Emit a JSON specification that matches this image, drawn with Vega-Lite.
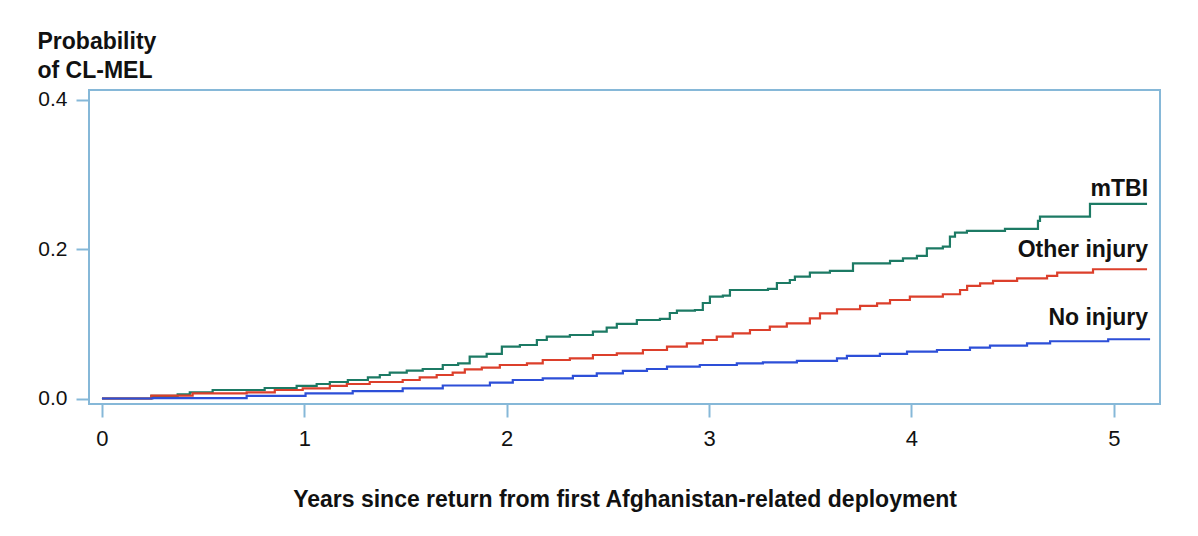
{
  "$schema": "https://vega.github.io/schema/vega-lite/v6.json",
  "width": 1071,
  "height": 314,
  "autosize": {"type": "none"},
  "padding": {"left": 89, "top": 90, "right": 38, "bottom": 132},
  "background": "white",
  "config": {
    "view": {"stroke": "#86b8d8", "strokeWidth": 2},
    "font": "Liberation Sans"
  },
  "datasets": {
    "curves": [
      {"group": "mTBI", "t": 0, "p": 0},
      {"group": "mTBI", "t": 0.244, "p": 0.0034},
      {"group": "mTBI", "t": 0.374, "p": 0.0056},
      {"group": "mTBI", "t": 0.434, "p": 0.0083},
      {"group": "mTBI", "t": 0.547, "p": 0.0114},
      {"group": "mTBI", "t": 0.804, "p": 0.0141},
      {"group": "mTBI", "t": 0.962, "p": 0.0168},
      {"group": "mTBI", "t": 1.061, "p": 0.0194},
      {"group": "mTBI", "t": 1.126, "p": 0.0221},
      {"group": "mTBI", "t": 1.215, "p": 0.0248},
      {"group": "mTBI", "t": 1.314, "p": 0.0284},
      {"group": "mTBI", "t": 1.373, "p": 0.0315},
      {"group": "mTBI", "t": 1.422, "p": 0.0346},
      {"group": "mTBI", "t": 1.506, "p": 0.0373},
      {"group": "mTBI", "t": 1.585, "p": 0.0395},
      {"group": "mTBI", "t": 1.684, "p": 0.0449},
      {"group": "mTBI", "t": 1.76, "p": 0.047},
      {"group": "mTBI", "t": 1.817, "p": 0.056},
      {"group": "mTBI", "t": 1.901, "p": 0.0597},
      {"group": "mTBI", "t": 1.976, "p": 0.0694},
      {"group": "mTBI", "t": 2.065, "p": 0.0717},
      {"group": "mTBI", "t": 2.149, "p": 0.0784},
      {"group": "mTBI", "t": 2.198, "p": 0.0828},
      {"group": "mTBI", "t": 2.312, "p": 0.0851},
      {"group": "mTBI", "t": 2.426, "p": 0.0895},
      {"group": "mTBI", "t": 2.494, "p": 0.0949},
      {"group": "mTBI", "t": 2.544, "p": 0.0999},
      {"group": "mTBI", "t": 2.643, "p": 0.1052},
      {"group": "mTBI", "t": 2.757, "p": 0.1066},
      {"group": "mTBI", "t": 2.806, "p": 0.1146},
      {"group": "mTBI", "t": 2.841, "p": 0.1177},
      {"group": "mTBI", "t": 2.93, "p": 0.1186},
      {"group": "mTBI", "t": 2.969, "p": 0.128},
      {"group": "mTBI", "t": 3.004, "p": 0.1365},
      {"group": "mTBI", "t": 3.068, "p": 0.1378},
      {"group": "mTBI", "t": 3.103, "p": 0.1454},
      {"group": "mTBI", "t": 3.291, "p": 0.1468},
      {"group": "mTBI", "t": 3.335, "p": 0.1548},
      {"group": "mTBI", "t": 3.399, "p": 0.1588},
      {"group": "mTBI", "t": 3.424, "p": 0.1633},
      {"group": "mTBI", "t": 3.498, "p": 0.1686},
      {"group": "mTBI", "t": 3.597, "p": 0.1709},
      {"group": "mTBI", "t": 3.711, "p": 0.1812},
      {"group": "mTBI", "t": 3.894, "p": 0.1843},
      {"group": "mTBI", "t": 3.958, "p": 0.1879},
      {"group": "mTBI", "t": 4.027, "p": 0.191},
      {"group": "mTBI", "t": 4.076, "p": 0.2013},
      {"group": "mTBI", "t": 4.155, "p": 0.2035},
      {"group": "mTBI", "t": 4.19, "p": 0.2169},
      {"group": "mTBI", "t": 4.215, "p": 0.2223},
      {"group": "mTBI", "t": 4.274, "p": 0.2245},
      {"group": "mTBI", "t": 4.462, "p": 0.2272},
      {"group": "mTBI", "t": 4.625, "p": 0.2379},
      {"group": "mTBI", "t": 4.635, "p": 0.2437},
      {"group": "mTBI", "t": 4.882, "p": 0.2607},
      {"group": "mTBI", "t": 5.164, "p": 0.2607},

      {"group": "Other injury", "t": 0, "p": 0},
      {"group": "Other injury", "t": 0.244, "p": 0.0038},
      {"group": "Other injury", "t": 0.448, "p": 0.007},
      {"group": "Other injury", "t": 0.715, "p": 0.0083},
      {"group": "Other injury", "t": 0.854, "p": 0.0114},
      {"group": "Other injury", "t": 0.992, "p": 0.0137},
      {"group": "Other injury", "t": 1.126, "p": 0.0168},
      {"group": "Other injury", "t": 1.21, "p": 0.0194},
      {"group": "Other injury", "t": 1.323, "p": 0.0221},
      {"group": "Other injury", "t": 1.486, "p": 0.0248},
      {"group": "Other injury", "t": 1.57, "p": 0.0284},
      {"group": "Other injury", "t": 1.654, "p": 0.0315},
      {"group": "Other injury", "t": 1.733, "p": 0.0346},
      {"group": "Other injury", "t": 1.793, "p": 0.0391},
      {"group": "Other injury", "t": 1.877, "p": 0.0413},
      {"group": "Other injury", "t": 1.966, "p": 0.0449},
      {"group": "Other injury", "t": 2.1, "p": 0.0472},
      {"group": "Other injury", "t": 2.178, "p": 0.0516},
      {"group": "Other injury", "t": 2.312, "p": 0.0539},
      {"group": "Other injury", "t": 2.426, "p": 0.0583},
      {"group": "Other injury", "t": 2.544, "p": 0.0606},
      {"group": "Other injury", "t": 2.673, "p": 0.065},
      {"group": "Other injury", "t": 2.792, "p": 0.0694},
      {"group": "Other injury", "t": 2.89, "p": 0.074},
      {"group": "Other injury", "t": 2.969, "p": 0.0784},
      {"group": "Other injury", "t": 3.038, "p": 0.0828},
      {"group": "Other injury", "t": 3.117, "p": 0.0874},
      {"group": "Other injury", "t": 3.202, "p": 0.0918},
      {"group": "Other injury", "t": 3.3, "p": 0.0962},
      {"group": "Other injury", "t": 3.384, "p": 0.1008},
      {"group": "Other injury", "t": 3.498, "p": 0.1075},
      {"group": "Other injury", "t": 3.548, "p": 0.1142},
      {"group": "Other injury", "t": 3.632, "p": 0.1196},
      {"group": "Other injury", "t": 3.746, "p": 0.124},
      {"group": "Other injury", "t": 3.83, "p": 0.1276},
      {"group": "Other injury", "t": 3.894, "p": 0.132},
      {"group": "Other injury", "t": 3.992, "p": 0.1365},
      {"group": "Other injury", "t": 4.155, "p": 0.1397},
      {"group": "Other injury", "t": 4.24, "p": 0.1454},
      {"group": "Other injury", "t": 4.275, "p": 0.1508},
      {"group": "Other injury", "t": 4.339, "p": 0.1544},
      {"group": "Other injury", "t": 4.403, "p": 0.1575},
      {"group": "Other injury", "t": 4.522, "p": 0.1611},
      {"group": "Other injury", "t": 4.67, "p": 0.1642},
      {"group": "Other injury", "t": 4.72, "p": 0.1686},
      {"group": "Other injury", "t": 4.897, "p": 0.1732},
      {"group": "Other injury", "t": 5.164, "p": 0.1732},

      {"group": "No injury", "t": 0, "p": 0},
      {"group": "No injury", "t": 0.25, "p": 0.0005},
      {"group": "No injury", "t": 0.715, "p": 0.0034},
      {"group": "No injury", "t": 1.006, "p": 0.007},
      {"group": "No injury", "t": 1.239, "p": 0.01},
      {"group": "No injury", "t": 1.486, "p": 0.0137},
      {"group": "No injury", "t": 1.684, "p": 0.0174},
      {"group": "No injury", "t": 1.917, "p": 0.0212},
      {"group": "No injury", "t": 2.03, "p": 0.0248},
      {"group": "No injury", "t": 2.178, "p": 0.0271},
      {"group": "No injury", "t": 2.327, "p": 0.0302},
      {"group": "No injury", "t": 2.445, "p": 0.0338},
      {"group": "No injury", "t": 2.574, "p": 0.0369},
      {"group": "No injury", "t": 2.693, "p": 0.0395},
      {"group": "No injury", "t": 2.792, "p": 0.0426},
      {"group": "No injury", "t": 2.954, "p": 0.0449},
      {"group": "No injury", "t": 3.137, "p": 0.0472},
      {"group": "No injury", "t": 3.266, "p": 0.0485},
      {"group": "No injury", "t": 3.434, "p": 0.0503},
      {"group": "No injury", "t": 3.632, "p": 0.0539},
      {"group": "No injury", "t": 3.681, "p": 0.057},
      {"group": "No injury", "t": 3.844, "p": 0.0597},
      {"group": "No injury", "t": 3.978, "p": 0.0627},
      {"group": "No injury", "t": 4.126, "p": 0.065},
      {"group": "No injury", "t": 4.289, "p": 0.0681},
      {"group": "No injury", "t": 4.388, "p": 0.0708},
      {"group": "No injury", "t": 4.571, "p": 0.074},
      {"group": "No injury", "t": 4.685, "p": 0.0767},
      {"group": "No injury", "t": 4.972, "p": 0.0794},
      {"group": "No injury", "t": 5.179, "p": 0.0794}
    ],
    "labels": [
      {"label": "mTBI", "t": 5.169, "p": 0.2715},
      {"label": "Other injury", "t": 5.169, "p": 0.1894},
      {"label": "No injury", "t": 5.169, "p": 0.0985}
    ]
  },
  "layer": [
    {
      "data": {"name": "curves"},
      "mark": {"type": "line", "interpolate": "step-after", "strokeWidth": 2.2},
      "encoding": {
        "x": {
          "field": "t",
          "type": "quantitative",
          "scale": {"domain": [-0.064, 5.228], "nice": false, "zero": false},
          "axis": {
            "values": [0, 1, 2, 3, 4, 5],
            "format": "d",
            "grid": false,
            "domain": false,
            "tickColor": "#86b8d8",
            "tickWidth": 2,
            "tickSize": 13,
            "labelFontSize": 22,
            "labelColor": "#111111",
            "labelPadding": 11,
            "labelBaseline": "top",
            "title": "Years since return from first Afghanistan-related deployment",
            "titleFontSize": 23,
            "titleFontWeight": "bold",
            "titleColor": "#111111",
            "titleBaseline": "alphabetic",
            "titleY": 102
          }
        },
        "y": {
          "field": "p",
          "type": "quantitative",
          "scale": {"domain": [-0.00737, 0.4134], "nice": false, "zero": false},
          "axis": {
            "values": [0, 0.2, 0.4],
            "format": ".1f",
            "grid": false,
            "domain": false,
            "tickColor": "#86b8d8",
            "tickWidth": 2,
            "tickSize": 13,
            "labelFontSize": 21,
            "labelColor": "#111111",
            "labelPadding": 9,
            "title": ["Probability", "of CL-MEL"],
            "titleFontSize": 23,
            "titleFontWeight": "bold",
            "titleColor": "#111111",
            "titleAngle": 0,
            "titleAlign": "left",
            "titleBaseline": "alphabetic",
            "titleLineHeight": 29,
            "titleX": -52,
            "titleY": -42
          }
        },
        "color": {
          "field": "group",
          "type": "nominal",
          "scale": {
            "domain": ["mTBI", "Other injury", "No injury"],
            "range": ["#1c7a64", "#dc3f2b", "#2d4fd8"]
          },
          "legend": null
        }
      }
    },
    {
      "data": {"name": "labels"},
      "mark": {
        "type": "text",
        "align": "right",
        "baseline": "alphabetic",
        "fontSize": 23,
        "fontWeight": "bold",
        "color": "#111111"
      },
      "encoding": {
        "x": {"field": "t", "type": "quantitative"},
        "y": {"field": "p", "type": "quantitative"},
        "text": {"field": "label"}
      }
    }
  ]
}
